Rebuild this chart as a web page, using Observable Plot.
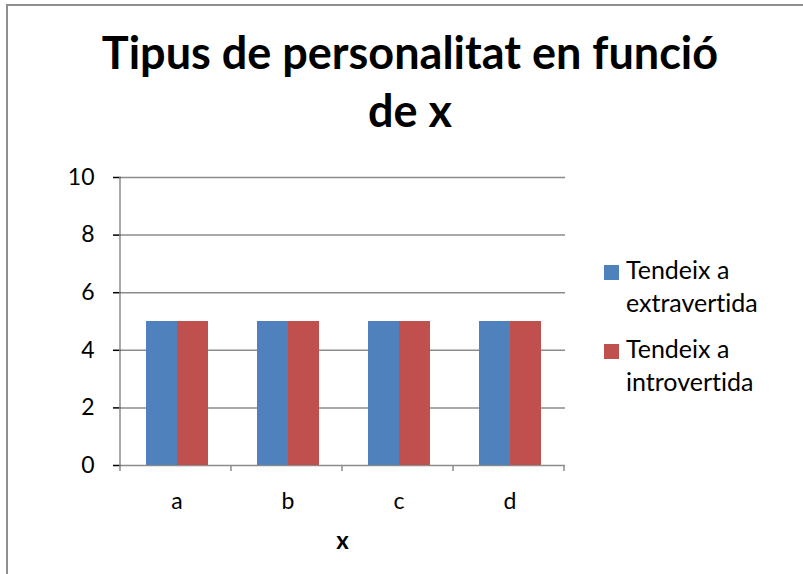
<!DOCTYPE html>
<html><head><meta charset="utf-8">
<script src="https://cdn.jsdelivr.net/npm/d3@7"></script>
<script src="https://cdn.jsdelivr.net/npm/@observablehq/plot@0.6"></script>
<style>
body{margin:0;background:#fff;}
#wrap{position:relative;width:803px;height:574px;overflow:hidden;background:#fff;font-family:Lato, sans-serif;color:#000;font-variant-ligatures:none;}
#frame{position:absolute;left:6px;top:4px;width:900px;height:900px;border-left:2px solid #8f8f8f;border-top:2px solid #8f8f8f;}
#title{position:absolute;left:0;width:820px;top:23px;text-align:center;font-weight:700;font-size:45px;line-height:58px;white-space:nowrap;}
#chart{position:absolute;left:0;top:160px;}
#xlabel{position:absolute;left:0;width:685px;top:525px;text-align:center;font-weight:700;font-size:24px;line-height:30px;}
.lg-sw{position:absolute;left:604px;width:15px;height:15px;}
.lg-tx{position:absolute;left:626px;font-size:25px;line-height:33.5px;white-space:nowrap;font-variant-ligatures:none;}
#chart svg{font-variant-ligatures:none;}
#chart g[aria-label="y-axis tick"]{stroke:#8c8c8c;stroke-width:1.5px;}
#chart g[aria-label="y-axis"] .tick line{stroke:#8c8c8c;stroke-width:1.5px;}
#chart g[aria-label="y-axis"] .domain{display:none;}
</style>
</head><body>
<div id="wrap">
  <div id="frame"></div>
  <div id="title"></div>
  <div id="chart"></div>
  <div id="xlabel"></div>
  <div id="legend"></div>
</div>
<script>
const titleLines = ["Tipus de personalitat en funció", "de x"];
const xAxisLabel = "x";
const categories = ["a", "b", "c", "d"];
const seriesNames = ["Tendeix a extravertida", "Tendeix a introvertida"];
const legendLines = [["Tendeix a", "extravertida"], ["Tendeix a", "introvertida"]];
const extravertida = [5, 5, 5, 5];
const introvertida = [5, 5, 5, 5];
const yTicks = [0, 2, 4, 6, 8, 10];
const colors = ["#4F81BD", "#C0504D"];

const data = categories.flatMap((c, i) => [
  {cat: c, series: seriesNames[0], value: extravertida[i]},
  {cat: c, series: seriesNames[1], value: introvertida[i]}
]);

document.getElementById("title").innerHTML = titleLines.join("<br>");
document.getElementById("xlabel").textContent = xAxisLabel;

const chart = Plot.plot({
  width: 590, height: 414,
  marginLeft: 120, marginRight: 25, marginTop: 17, marginBottom: 109,
  style: {fontSize: "23px", fontFamily: "Lato, sans-serif", color: "#000", background: "transparent", overflow: "visible"},
  fx: {domain: categories, padding: 0, axis: "bottom", tickSize: 0, tickPadding: 27, label: null},
  x: {domain: seriesNames, paddingInner: 0, paddingOuter: 0.777, axis: null},
  y: {domain: [0, 10], ticks: yTicks, tickSize: 8, tickPadding: 19, label: null},
  color: {domain: seriesNames, range: colors},
  marks: [
    Plot.ruleY(yTicks, {stroke: "#8c8c8c", strokeWidth: 1.5}),
    Plot.barY(data, {fx: "cat", x: "series", y: "value", fill: "series"})
  ]
});
document.getElementById("chart").appendChild(chart);

// axis line and category boundary ticks, positioned from Plot's own scales
const svgEl = chart.tagName.toLowerCase() === "svg" ? chart : chart.querySelector("svg");
const fxs = chart.scale("fx"), ys = chart.scale("y");
const step = fxs.step || (fxs.range[1] - fxs.range[0]) / categories.length;
const left = fxs.range[0];
const yBottom = Math.max(...ys.range), yTop = Math.min(...ys.range);
const g = d3.select(svgEl).append("g").attr("stroke", "#8c8c8c").attr("stroke-width", 1.5);
g.append("line").attr("x1", left).attr("x2", left).attr("y1", yTop).attr("y2", yBottom + 6);
categories.forEach((c, i) => {
  const xb = left + (i + 1) * step;
  g.append("line").attr("x1", xb).attr("x2", xb).attr("y1", yBottom).attr("y2", yBottom + 6);
});

// legend
const legend = document.getElementById("legend");
const swatchTops = [265, 344];
const textTops = [252.5, 331.5];
legendLines.forEach((lines, i) => {
  const sw = document.createElement("div");
  sw.className = "lg-sw";
  sw.style.top = swatchTops[i] + "px";
  sw.style.background = colors[i];
  legend.appendChild(sw);
  const tx = document.createElement("div");
  tx.className = "lg-tx";
  tx.style.top = textTops[i] + "px";
  tx.innerHTML = lines.join("<br>");
  legend.appendChild(tx);
});
</script>
</body></html>
